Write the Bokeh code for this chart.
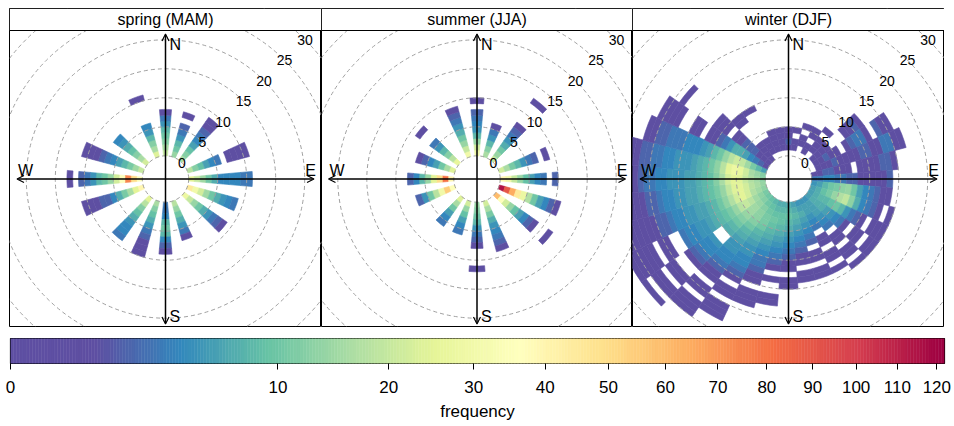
import numpy as np
from bokeh.plotting import figure
from bokeh.models import (ColumnDataSource, LinearColorMapper, Arrow, OpenHead,
                          FixedTicker, CustomJSTickFormatter, Spacer, Range1d)
from bokeh.layouts import row, column
from bokeh.embed import file_html
from bokeh.resources import INLINE
from bokeh.core.properties import value

# ---------------- data (frequency per wind-direction bin, per 1 m/s speed bin) -------------
spokes16 = [0, 20, 40, 70, 90, 110, 130, 160, 180, 200, 220, 250, 270, 290, 310, 340]

spring = [
    [20, 16, 12, 10, 8, 5, 3, 1],
    [14, 10, 8, 5, 3, 2, 0, 1],
    [16, 12, 9, 6, 4, 3, 2, 1, 1],
    [18, 12, 9, 6, 4, 3, 0, 1, 1, 1, 1],
    [25, 20, 15, 10, 7, 4, 4, 4, 4, 3, 3],
    [45, 30, 22, 15, 10, 7, 5, 4, 3],
    [28, 20, 14, 10, 7, 5, 3, 2, 1],
    [18, 14, 10, 7, 5, 3, 1],
    [3, 3, 4, 8, 10, 8, 4, 2, 1],
    [16, 12, 9, 7, 5, 3, 2, 1, 1, 1],
    [25, 18, 12, 9, 7, 5, 4, 4, 3],
    [40, 25, 16, 11, 7, 4, 2, 2, 1, 1, 1],
    [35, 50, 75, 35, 22, 14, 10, 8, 5, 3, 2, 0, 1],
    [20, 15, 11, 8, 6, 4, 3, 2, 1, 1, 1],
    [22, 16, 12, 9, 7, 5, 4],
    [24, 16, 12, 8, 5, 4, 0, 0, 0, 0, 1],
]

summer = [
    [30, 22, 14, 8, 5, 4, 3, 2, 0, 1],
    [16, 12, 8, 5, 3, 1],
    [20, 14, 10, 7, 5, 3, 2, 1, 0, 0, 0, 0, 1],
    [22, 16, 11, 8, 5, 3, 2, 0, 1],
    [40, 30, 20, 14, 9, 6, 4, 3, 0, 2],
    [115, 90, 65, 45, 28, 17, 10, 6, 4, 2, 1],
    [60, 35, 22, 14, 9, 6, 4, 2, 1, 0, 0, 1],
    [22, 16, 11, 7, 5, 4, 3, 2, 1],
    [14, 12, 10, 8, 5, 3, 2, 1, 0, 0, 0, 1],
    [22, 14, 9, 6, 4, 3],
    [24, 16, 10, 6, 4, 3],
    [35, 55, 30, 18, 10, 5, 2],
    [40, 80, 50, 25, 14, 8, 4, 2],
    [24, 16, 10, 6, 4, 2, 1],
    [26, 18, 12, 8, 5, 3, 0, 0, 1],
    [30, 20, 14, 10, 7, 5, 3, 2, 1],
]

dirs36 = list(range(0, 360, 10))

winter = [
    [0, 1, 2, 1, 1],
    [0, 1, 1, 0, 1],
    [0, 0, 1, 1, 0, 1],
    [0, 1, 1, 0, 1, 1],
    [0, 0, 1, 1, 1, 0, 1],
    [0, 1, 1, 1, 1, 0, 0, 0, 1, 1, 2, 1],
    [0, 1, 1, 2, 1, 1, 0, 1, 2, 3, 3, 1, 0, 2, 1, 1],
    [0, 1, 1, 1, 2, 1, 1, 1, 1, 2, 2, 1, 1, 3, 3, 1, 1],
    [1, 1, 2, 2, 1, 1, 1, 0, 1, 1, 1, 1, 2, 2, 1],
    [3, 3, 4, 4, 3, 3, 2, 2, 1, 1, 1, 1, 1, 2],
    [5, 6, 8, 10, 11, 13, 14, 10, 6, 4, 3, 2, 1, 1],
    [6, 7, 9, 11, 14, 17, 19, 13, 7, 4, 3, 2, 1, 0, 1],
    [6, 7, 8, 8, 9, 10, 8, 5, 3, 2, 1, 0, 1, 1, 1],
    [6, 7, 7, 7, 6, 5, 4, 3, 1, 0, 1, 1, 0, 1, 1],
    [5, 6, 6, 6, 5, 4, 3, 0, 1, 1, 0, 1, 1, 0, 1],
    [5, 6, 6, 5, 4, 3, 0, 1, 1, 0, 1, 1, 0, 1],
    [5, 6, 7, 6, 5, 4, 3, 2, 0, 1, 1, 0, 1, 1],
    [6, 7, 8, 7, 6, 5, 4, 3, 2, 1, 1, 0, 1, 1],
    [7, 8, 9, 8, 7, 6, 5, 4, 3, 2, 1, 1, 0, 1, 1],
    [7, 8, 9, 9, 8, 7, 6, 5, 4, 3, 2, 1, 0, 1, 0, 0, 1, 1],
    [7, 8, 9, 10, 9, 8, 7, 6, 5, 4, 3, 3, 2, 1, 1, 0, 1, 1, 1],
    [8, 9, 10, 11, 11, 10, 8, 7, 6, 5, 5, 4, 4, 3, 2, 1, 0, 1, 1, 0, 1, 1, 1],
    [9, 10, 12, 13, 13, 12, 10, 8, 7, 6, 5, 5, 4, 4, 3, 2, 1, 1, 0, 1, 1, 0, 1, 1, 1],
    [10, 12, 14, 15, 15, 14, 12, 10, 8, 7, 0, 0, 5, 4, 4, 3, 2, 1, 0, 0, 1, 1, 0, 1, 1, 0, 1],
    [11, 13, 15, 18, 20, 18, 14, 11, 9, 8, 7, 6, 5, 5, 4, 4, 3, 0, 0, 1, 1, 0, 1, 1, 1, 1, 1],
    [13, 15, 17, 22, 25, 22, 17, 13, 10, 8, 7, 6, 6, 5, 5, 4, 4, 3, 2, 2, 1, 1, 1, 1, 1, 1],
    [14, 16, 18, 22, 25, 24, 19, 14, 11, 9, 8, 7, 6, 6, 5, 5, 4, 4, 3, 2, 2, 1, 1, 1, 1],
    [13, 15, 17, 20, 24, 25, 22, 16, 12, 9, 8, 7, 6, 6, 5, 5, 5, 4, 4, 3, 3, 2, 1, 1],
    [12, 14, 16, 21, 26, 28, 25, 18, 13, 10, 8, 7, 6, 5, 5, 5, 4, 4, 3, 3, 2, 2, 1, 1],
    [6, 8, 11, 15, 19, 21, 18, 14, 10, 8, 6, 5, 4, 4, 4, 3, 3, 3, 2, 2, 1, 1],
    [1, 2, 3, 4, 6, 7, 7, 5, 3, 2, 1, 1, 0, 1, 1, 0, 0, 1, 1, 1, 1],
    [1, 1, 1, 2, 2, 2, 1, 1, 0, 1, 1, 1, 0, 0, 0, 0, 0, 0, 1],
    [1, 1, 1, 1, 0, 0, 0, 0, 1, 1, 0, 0, 0, 0, 0, 0, 0],
    [0, 1, 1, 1, 0, 0, 0, 0, 0, 1],
    [0, 1, 1, 1, 1],
    [0, 1, 1, 1, 1],
]

panel_titles = ["spring (MAM)", "summer (JJA)", "winter (DJF)"]
ring_values = [0, 5, 10, 15, 20, 25, 30]
cbar_ticks = [0, 10, 20, 30, 40, 50, 60, 70, 80, 90, 100, 110, 120]
freq_max = 122

# ---------------- styling ----------------
K = 5.8          # pixels per speed unit
OFF = 4.0        # size of the central hole (speed units)
FONT = "Liberation Sans"
PANEL_H = 319
POLAR_HALF = 148.5
STRIP_H = 22

stops = ["#5E4FA2", "#5E4FA2", "#3288BD", "#66C2A5", "#ABDDA4", "#E6F598",
         "#FFFFBF", "#FEE08B", "#FDAE61", "#F46D43", "#D53E4F", "#9E0142"]


def hex2rgb(h):
    return np.array([int(h[i:i + 2], 16) for i in (1, 3, 5)], dtype=float)


srgb = np.array([hex2rgb(h) for h in stops])
spos = np.linspace(0, 1, len(stops))
PAL = []
for t in np.linspace(0, 1, 256):
    c = [np.interp(t, spos, srgb[:, k]) for k in range(3)]
    PAL.append("#%02x%02x%02x" % tuple(int(round(v)) for v in c))

mapper = LinearColorMapper(palette=PAL, low=0, high=np.sqrt(freq_max))


def cell_source(wds, table):
    xs, ys, sq = [], [], []
    for wd, freqs in zip(wds, table):
        a = np.radians(np.linspace(wd - 5, wd + 5, 4))
        for i, f in enumerate(freqs):
            if f <= 0:
                continue
            r0, r1 = OFF + i, OFF + i + 1
            xs.append(list(np.concatenate([r0 * np.sin(a), r1 * np.sin(a[::-1])])))
            ys.append(list(np.concatenate([r0 * np.cos(a), r1 * np.cos(a[::-1])])))
            sq.append(float(np.sqrt(f)))
    return ColumnDataSource(dict(xs=xs, ys=ys, sq=sq))


def panel(title, wds, table, width):
    hw = width / 2 / K
    yb = -POLAR_HALF / K
    yt = yb + PANEL_H / K
    ytop_polar = POLAR_HALF / K
    p = figure(width=width, height=PANEL_H, x_range=Range1d(-hw, hw),
               y_range=Range1d(yb, yt), toolbar_location=None, output_backend="svg",
               x_axis_location=None, y_axis_location=None, min_border=0, title=None)
    p.grid.visible = False
    p.outline_line_color = "black"
    p.outline_line_width = 1
    p.background_fill_color = "white"
    p.border_fill_color = "white"

    src = cell_source(wds, table)
    p.patches("xs", "ys", source=src,
              fill_color={"field": "sq", "transform": mapper},
              line_color={"field": "sq", "transform": mapper}, line_width=0.6)

    # dashed speed rings
    for rv in ring_values:
        p.circle(x=0, y=0, radius=OFF + rv, fill_color=None, line_color="#A0A0A0",
                 line_dash="4 3", line_width=1)

    # ring labels along 45 degrees
    rr = [OFF + rv for rv in ring_values]
    p.text(x=[r * np.sin(np.pi / 4) for r in rr], y=[r * np.cos(np.pi / 4) for r in rr],
           text=[str(v) for v in ring_values], text_align="center",
           text_baseline="middle", text_font=value(FONT),
           text_font_size=value("14px"), text_color="black")

    # compass axes with arrows
    hx, vy = 148.5 / K, 145 / K
    p.add_layout(Arrow(start=OpenHead(size=7, line_width=1.2), end=OpenHead(size=7, line_width=1.2),
                       x_start=-hx, y_start=0, x_end=hx, y_end=0, line_width=1.5))
    p.add_layout(Arrow(start=OpenHead(size=7, line_width=1.2), end=OpenHead(size=7, line_width=1.2),
                       x_start=0, y_start=-vy, x_end=0, y_end=vy, line_width=1.5))
    p.text(x=[4 / K, 4 / K], y=[135 / K, -137 / K], text=["N", "S"], text_align="left",
           text_baseline="middle", text_font=value(FONT), text_font_size=value("16px"),
           text_color="black")
    p.text(x=[-140 / K, 145 / K], y=[9 / K, 9 / K], text=["W", "E"], text_align="center",
           text_baseline="middle", text_font=value(FONT), text_font_size=value("16px"),
           text_color="black")

    # strip header
    p.quad(left=-hw, right=hw, bottom=ytop_polar, top=yt, fill_color="white",
           line_color="black", line_width=1)
    p.text(x=[0], y=[ytop_polar + (STRIP_H / 2) / K], text=[title], text_align="center",
           text_baseline="middle", text_font=value(FONT), text_font_size=value("16px"),
           text_color="black")
    return p


f1 = panel(panel_titles[0], spokes16, spring, 312)
f2 = panel(panel_titles[1], spokes16, summer, 311)
f3 = panel(panel_titles[2], dirs36, winter, 312)

# ---------------- colour key ----------------
smax = np.sqrt(freq_max)
cb = figure(width=954, height=99, x_range=Range1d(0, smax), y_range=Range1d(0, 1),
            toolbar_location=None, output_backend="svg", y_axis_location=None,
            min_border_left=10, min_border_right=10, min_border_top=11,
            min_border_bottom=63, title=None)
cb.grid.visible = False
cb.outline_line_color = "black"
cb.outline_line_width = 1.2
edges = np.linspace(0, smax, 301)
bar_cols = [PAL[min(255, int(((a + b) / 2) / smax * 256))] for a, b in zip(edges[:-1], edges[1:])]
cb.quad(left=edges[:-1], right=edges[1:], bottom=0, top=1,
        fill_color=bar_cols, line_color=bar_cols, line_width=0.5)
ax = cb.xaxis[0]
ax.ticker = FixedTicker(ticks=[float(np.sqrt(v)) for v in cbar_ticks])
ax.formatter = CustomJSTickFormatter(code="return Math.round(tick*tick).toString();")
ax.axis_line_color = None
ax.major_tick_in = 0
ax.major_tick_out = 6
ax.major_tick_line_color = "black"
ax.minor_tick_line_color = None
ax.major_label_text_font = FONT
ax.major_label_text_font_size = "17px"
ax.major_label_text_color = "black"
ax.major_label_standoff = 11
ax.axis_label = "frequency"
ax.axis_label_text_font = FONT
ax.axis_label_text_font_size = "17px"
ax.axis_label_text_font_style = "normal"
ax.axis_label_text_color = "black"
ax.axis_label_standoff = 6

layout = column(Spacer(width=954, height=8),
                row(Spacer(width=9, height=PANEL_H), f1, f2, f3),
                cb)

open("out.html", "w").write(file_html(layout, INLINE))
